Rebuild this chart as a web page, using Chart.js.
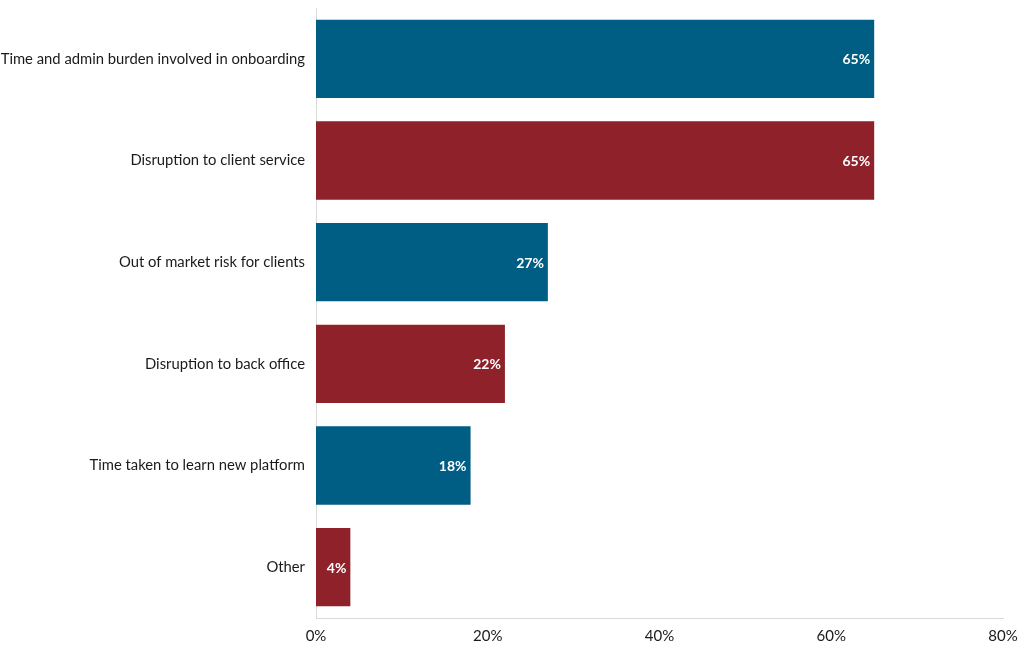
<!DOCTYPE html>
<html><head><meta charset="utf-8">
<script src="https://cdn.jsdelivr.net/npm/chart.js@4/dist/chart.umd.min.js"></script>
<style>html,body{margin:0;padding:0;background:#fff}#wrap{width:1020px;height:650px;position:relative}</style>
</head><body><div id="wrap"><canvas id="c"></canvas></div>
<script>
const categories = ["Time and admin burden involved in onboarding","Disruption to client service","Out of market risk for clients","Disruption to back office","Time taken to learn new platform","Other"];
const values = [65, 65, 27, 22, 18, 4];
const barColors = ["#005E85","#8E2129","#005E85","#8E2129","#005E85","#8E2129"];
const xTicks = [0, 20, 40, 60, 80];
const FONT = "Lato, 'Open Sans', sans-serif";

const labelPlugin = {
  id: 'labels',
  afterDatasetsDraw(chart) {
    const ctx = chart.ctx;
    const meta = chart.getDatasetMeta(0);
    ctx.save();
    ctx.font = "bold 14px " + FONT;
    ctx.fillStyle = "#ffffff";
    ctx.textAlign = "right";
    ctx.textBaseline = "middle";
    meta.data.forEach((bar, i) => {
      ctx.fillText(values[i] + "%", bar.x - 4, bar.y + 1);
    });
    ctx.restore();
  }
};

new Chart(document.getElementById('c'), {
  type: 'bar',
  data: { labels: categories, datasets: [{ data: values, backgroundColor: barColors, borderWidth: 0, barPercentage: 0.77, categoryPercentage: 1 }] },
  options: {
    indexAxis: 'y', responsive: true, maintainAspectRatio: false, animation: false,
    layout: { padding: { top: 8, right: 17, bottom: 0, left: 0 } },
    plugins: { legend: { display: false }, tooltip: { enabled: false } },
    scales: {
      x: {
        min: 0, max: 80,
        afterBuildTicks(s) { s.ticks = xTicks.map(v => ({ value: v })); },
        afterFit(s) { s.height = 32; s.paddingLeft = 0; s.paddingRight = 0; },
        grid: { display: false, drawTicks: false },
        border: { display: true, color: '#d9d9d9', width: 1 },
        ticks: { color: '#1a1a1a', font: { family: FONT, size: 15 }, padding: 9, callback: v => v + '%', maxRotation: 0 }
      },
      y: {
        afterFit(s) { s.width = 316; s.paddingTop = 0; s.paddingBottom = 0; },
        grid: { display: false, drawTicks: false },
        border: { display: true, color: '#d9d9d9', width: 1 },
        ticks: { color: '#1a1a1a', font: { family: FONT, size: 14.8 }, padding: 11 }
      }
    }
  },
  plugins: [labelPlugin]
});
</script></body></html>
